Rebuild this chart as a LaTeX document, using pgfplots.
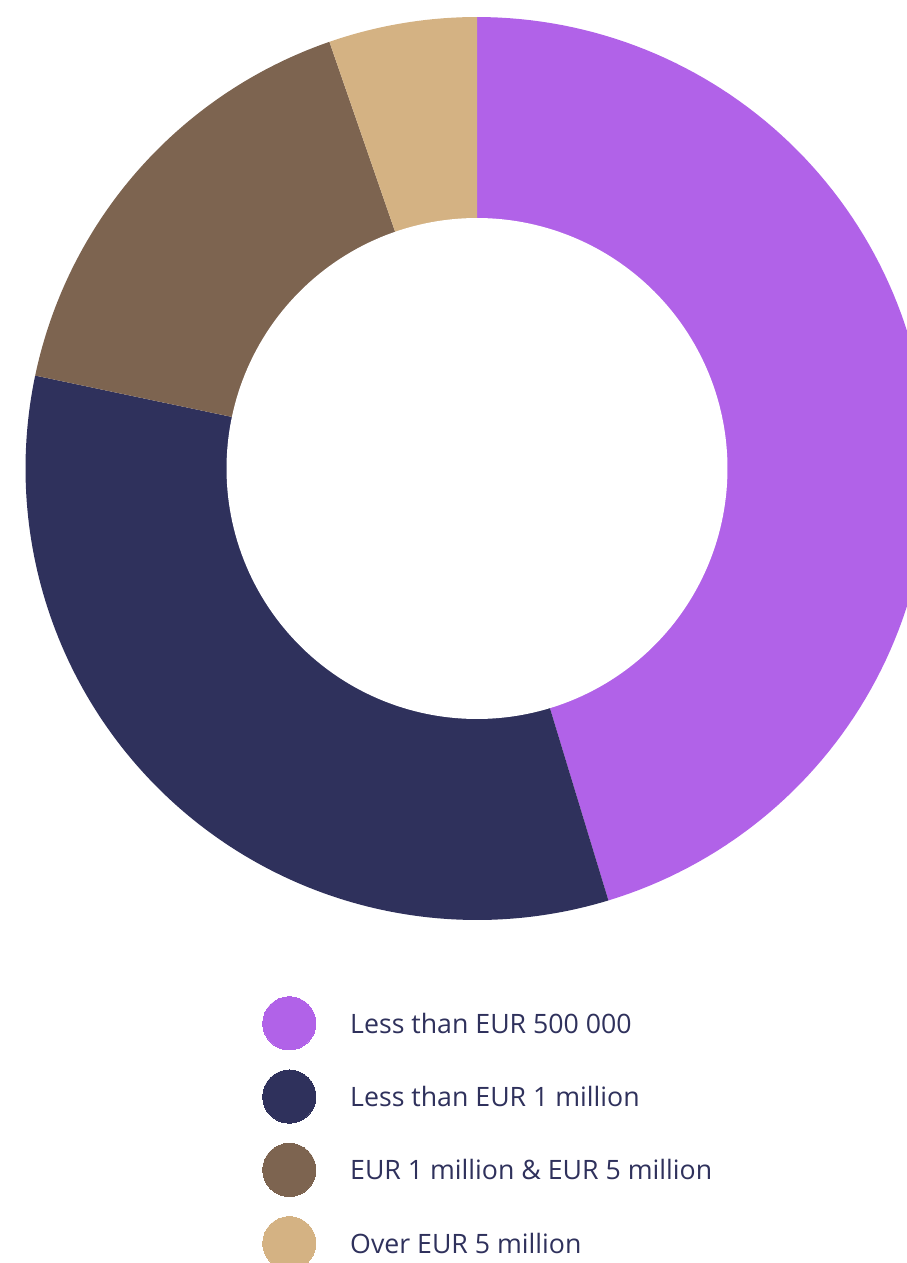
\documentclass[border=0pt]{standalone}
\usepackage{pgfplots}
\pgfplotsset{compat=1.18}
\usepackage{fontspec}
\setmainfont{Open Sans}
\definecolor{cpurple}{HTML}{B162E8}
\definecolor{cnavy}{HTML}{2F315C}
\definecolor{cbrown}{HTML}{7D6450}
\definecolor{ctan}{HTML}{D4B283}
\definecolor{ctext}{HTML}{2F315C}
% shares (percent)
\def\vA{45.3}
\def\vB{33.0}
\def\vC{16.4}
\def\vD{5.3}
\pgfmathsetmacro\aA{\vA*3.6}
\pgfmathsetmacro\aB{\aA+\vB*3.6}
\pgfmathsetmacro\aC{\aB+\vC*3.6}
\pgfmathsetmacro\aD{\aC+\vD*3.6}
\def\cx{477}
\def\cy{-468.5}
\def\R{451.5}
\def\r{250.5}
\begin{document}
\begin{tikzpicture}
\useasboundingbox (0,0) rectangle (907bp,1263bp);
\clip (0,0) rectangle (907bp,1263bp);
\begin{axis}[
  at={(0,0)}, anchor=south west,
  scale only axis,
  width=907bp, height=1263bp,
  xmin=0, xmax=907, ymin=-1263, ymax=0,
  hide axis,
  clip=true,
]
\addplot[fill=cpurple, draw=none, domain=0:\aA, samples=120, variable=\t]
  ({\cx+\R*sin(t)},{\cy+\R*cos(t)}) -- (axis cs:\cx,\cy) -- cycle;
\addplot[fill=cnavy, draw=none, domain=\aA:\aB, samples=120, variable=\t]
  ({\cx+\R*sin(t)},{\cy+\R*cos(t)}) -- (axis cs:\cx,\cy) -- cycle;
\addplot[fill=cbrown, draw=none, domain=\aB:\aC, samples=80, variable=\t]
  ({\cx+\R*sin(t)},{\cy+\R*cos(t)}) -- (axis cs:\cx,\cy) -- cycle;
\addplot[fill=ctan, draw=none, domain=\aC:\aD, samples=40, variable=\t]
  ({\cx+\R*sin(t)},{\cy+\R*cos(t)}) -- (axis cs:\cx,\cy) -- cycle;
\addplot[fill=white, draw=none, domain=0:360, samples=240, variable=\t]
  ({\cx+\r*sin(t)},{\cy+\r*cos(t)}) -- cycle;
% legend markers
\addplot[only marks, color=cpurple, mark=*, mark size=26.6bp, mark options={draw=cpurple, fill=cpurple, line width=0pt}] coordinates {(289.3,-1023.3)};
\addplot[only marks, color=cnavy, mark=*, mark size=26.6bp, mark options={draw=cnavy, fill=cnavy, line width=0pt}] coordinates {(289.3,-1096.6)};
\addplot[only marks, color=cbrown, mark=*, mark size=26.6bp, mark options={draw=cbrown, fill=cbrown, line width=0pt}] coordinates {(289.3,-1169.9)};
\addplot[only marks, color=ctan, mark=*, mark size=26.6bp, mark options={draw=ctan, fill=ctan, line width=0pt}] coordinates {(289.3,-1243.2)};
\begin{scope}[every node/.style={anchor=base west, inner sep=0pt, text=ctext, font=\fontsize{26.8}{31}\selectfont}]
\node at (axis cs:350,-1033.3) {Less than EUR 500 000};
\node at (axis cs:350,-1106.6) {Less than EUR 1 million};
\node at (axis cs:350,-1179.9) {EUR 1 million \& EUR 5 million};
\node at (axis cs:350,-1253.2) {Over EUR 5 million};
\end{scope}
\end{axis}
\end{tikzpicture}
\end{document}
